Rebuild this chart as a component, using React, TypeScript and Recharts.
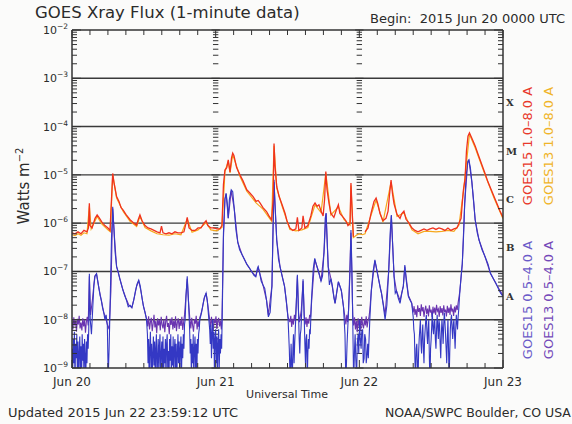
import React from 'react';
import { LineChart, Line, XAxis, YAxis, ReferenceLine } from 'recharts';

const W = 572;
const H = 424;

// [hours since 2015 Jun 20 00:00 UTC, log10(flux W m^-2)]
const goes15Long: [number, number | null][] = [
  [0,-6.2],[0.5,-6.22],[1,-6.18],[1.5,-6.22],[2,-6.15],[2.5,-6.18],[2.75,-6.1],[2.9,-5.59],[3,-6.05],[3.35,-6.1],[3.85,-5.9],[4.2,-5.83],[4.5,-5.88],[5,-5.98],[5.5,-6.05],[6,-6.1],[6.35,-6.15],[6.6,-5.5],[6.8,-4.97],[7,-5.15],[7.45,-5.45],[7.85,-5.55],[8.2,-5.68],[8.55,-5.73],[9,-5.82],[9.7,-5.93],[10.35,-6],[10.8,-6.04],[11,-5.95],[11.35,-5.83],[11.7,-5.95],[12.2,-6.05],[12.7,-6.1],[13.2,-6.12],[13.7,-6.15],[14.2,-6.18],[14.7,-6.2],[14.95,-6.06],[15.2,-6.2],[15.7,-6.22],[16.2,-6.2],[16.7,-6.22],[17.2,-6.18],[17.7,-6.2],[18.2,-6.2],[18.7,-6.18],[19.05,-6.0],[19.25,-5.88],[19.55,-6.1],[20.05,-6.15],[20.55,-6.15],[21.05,-6.1],[21.55,-6.1],[22.05,-6.0],[22.4,-5.95],[22.7,-6.05],[23.2,-6.1],[23.7,-6.1],[24.2,-6.12],[24.7,-6.12],[25.05,-6.05],[25.3,-5.2],[25.55,-4.9],[25.85,-4.85],[26.1,-4.69],[26.4,-4.94],[26.65,-4.65],[26.85,-4.55],[27.05,-4.6],[27.5,-4.85],[28.05,-5.0],[28.55,-5.12],[29.2,-5.31],[29.75,-5.38],[30.25,-5.45],[30.75,-5.55],[31.1,-5.53],[31.4,-5.58],[31.9,-5.68],[32.5,-5.76],[32.9,-5.85],[33.35,-5.93],[33.6,-5.5],[33.75,-4.35],[33.9,-4.8],[34.2,-5.24],[34.6,-5.45],[35.1,-5.62],[35.6,-5.8],[35.9,-5.95],[36.4,-6.1],[36.9,-6.15],[37.4,-6.12],[37.65,-5.88],[37.9,-6.15],[38.4,-6.1],[38.6,-5.85],[38.9,-6.1],[39.4,-6.05],[39.9,-5.85],[40.25,-5.65],[40.6,-5.58],[40.95,-5.65],[41.25,-5.62],[41.6,-5.75],[41.95,-5.85],[42.2,-5.5],[42.4,-4.93],[42.6,-5.3],[42.95,-5.6],[43.25,-5.8],[43.75,-5.88],[44.1,-5.75],[44.5,-5.62],[44.75,-5.8],[45.1,-5.85],[45.45,-5.9],[45.75,-5.95],[46.1,-6.05],[46.45,-6.0],[46.6,-5.17],[46.75,-5.6],[47.0,-6.28],[47.5,null],[48.95,-6.18],[49.45,-6.1],[49.95,-5.8],[50.45,-5.55],[50.8,-5.48],[51.1,-5.6],[51.45,-5.8],[51.95,-5.95],[52.45,-5.9],[52.8,-5.75],[53.05,-5.4],[53.3,-5.11],[53.55,-5.4],[53.8,-5.6],[54.3,-5.82],[54.8,-5.9],[55.1,-5.8],[55.45,-5.75],[55.8,-5.92],[56.3,-6.0],[56.8,-6.1],[57.3,-6.15],[57.8,-6.18],[58.3,-6.15],[58.8,-6.12],[59.3,-6.15],[59.8,-6.12],[60.3,-6.1],[60.8,-6.13],[61.3,-6.1],[61.8,-6.12],[62.3,-6.15],[62.8,-6.1],[63.3,-6.15],[63.8,-6.12],[64.3,-6.1],[64.65,-6.0],[65.0,-5.9],[65.25,-5.5],[65.4,-5.3],[65.65,-5.1],[65.9,-4.5],[66.15,-4.2],[66.4,-4.13],[66.65,-4.2],[67.0,-4.3],[67.35,-4.4],[67.85,-4.58],[68.35,-4.75],[69.0,-4.97],[69.5,-5.15],[70.0,-5.3],[70.5,-5.45],[71.0,-5.6],[71.5,-5.75],[72,-5.88],
];

const goes13Long: [number, number | null][] = [
  [0,-6.24],[0.5,-6.26],[1,-6.22],[1.5,-6.25],[2,-6.2],[2.5,-6.22],[2.9,-5.65],[3.2,-6.12],[4.2,-5.86],[5,-6.02],[6,-6.14],[6.4,-6.18],[6.8,-5.0],[7.45,-5.48],[8.55,-5.76],[9.7,-5.96],[10.8,-6.07],[11.35,-5.86],[12.2,-6.09],[13.2,-6.16],[14.2,-6.22],[15.2,-6.24],[16.2,-6.25],[17.2,-6.22],[18.2,-6.24],[19.25,-5.92],[20.05,-6.19],[21.05,-6.14],[22.4,-5.99],[23.2,-6.14],[24.2,-6.16],[25.05,-6.09],[25.55,-4.93],[26.1,-4.72],[26.4,-4.96],[26.85,-4.58],[28.05,-5.03],[29.2,-5.34],[30.75,-5.58],[31.9,-5.71],[33.35,-5.96],[33.75,-4.4],[34.2,-5.27],[35.1,-5.65],[36.4,-6.13],[37.4,-6.16],[38.4,-6.14],[39.4,-6.09],[40.6,-5.62],[41.6,-5.78],[42.4,-4.97],[43.25,-5.83],[44.5,-5.66],[45.45,-5.93],[46.45,-6.04],[46.6,-5.22],[47.0,-6.3],[47.5,-6.25],[48.0,-6.22],[48.5,-6.24],[48.95,-6.22],[49.95,-5.84],[50.8,-5.52],[51.95,-5.98],[53.3,-5.15],[54.3,-5.86],[55.45,-5.79],[56.8,-6.14],[57.8,-6.22],[58.8,-6.17],[59.8,-6.17],[60.8,-6.18],[61.8,-6.17],[62.8,-6.15],[63.8,-6.17],[64.65,-6.04],[65.4,-5.34],[66.4,-4.16],[67.35,-4.44],[69.0,-5.0],[70.5,-5.48],[72,-5.91],
];

const goes15Short: [number, number | null][] = [
  [0,-8.6],[0.1,-9.2],[0.2,-8.4],[0.3,-8.9],[0.4,-8.25],[0.5,-9.3],[0.6,-8.5],[0.7,-8.8],[0.8,-8.3],[0.9,-9.1],[1,-8.45],[1.1,-9.3],[1.2,-8.7],[1.3,-8.35],[1.4,-9.0],[1.5,-8.55],[1.6,-9.25],[1.7,-8.3],[1.8,-8.85],[1.9,-8.5],[2,-9.2],[2.1,-8.4],[2.2,-8.75],[2.3,-9.3],[2.4,-8.45],[2.5,-8.9],[2.6,-8.3],[2.7,-8.6],[2.8,-8.2],
  [2.9,-7.05],[3.05,-8.0],[3.25,-8.3],[3.45,-7.8],[3.65,-7.3],[3.85,-7.1],[4.1,-7.05],[4.3,-7.2],[4.5,-7.35],[4.7,-7.5],[4.9,-7.6],[5.1,-7.75],[5.3,-7.85],[5.5,-8.0],[5.7,-7.9],[5.9,-8.1],[6.05,-9.2],[6.2,-8.6],[6.4,-7.5],[6.6,-6.3],[6.8,-5.66],[7,-6.1],[7.2,-6.6],[7.45,-6.9],[7.7,-7.0],[7.95,-7.14],[8.2,-7.25],[8.5,-7.38],[8.8,-7.5],[9.1,-7.6],[9.4,-7.73],[9.7,-7.7],[10,-7.75],[10.3,-7.6],[10.6,-7.4],[10.9,-7.25],[11.15,-7.18],[11.4,-7.3],[11.7,-7.55],[11.95,-7.73],[12.2,-7.85],[12.45,-8.0],
  [12.6,-8.3],[12.7,-8.9],[12.8,-8.4],[12.9,-9.3],[13,-8.6],[13.1,-8.25],[13.2,-9.0],[13.3,-8.5],[13.4,-9.3],[13.5,-8.7],[13.6,-8.35],[13.7,-8.95],[13.8,-8.45],[13.9,-9.2],[14,-8.6],[14.1,-8.3],[14.2,-9.3],[14.3,-8.8],[14.4,-8.4],[14.5,-9.1],[14.6,-8.55],[14.7,-8.3],[14.8,-9.3],[14.9,-8.7],[15,-8.45],[15.1,-9.0],[15.2,-8.35],[15.3,-9.3],[15.4,-8.6],[15.5,-8.9],[15.6,-8.4],[15.7,-9.25],[15.8,-8.5],[15.9,-8.3],[16,-9.1],[16.1,-8.65],[16.2,-9.3],[16.3,-8.4],[16.4,-8.85],[16.5,-8.3],[16.6,-9.2],[16.7,-8.55],[16.8,-8.95],[16.9,-8.35],[17,-9.3],[17.1,-8.6],[17.2,-8.4],[17.3,-9.0],[17.4,-8.5],[17.5,-9.3],[17.6,-8.7],[17.7,-8.3],[17.8,-8.9],[17.9,-8.45],[18,-9.2],[18.1,-8.6],[18.2,-8.35],[18.3,-9.05],[18.4,-8.5],[18.5,-8.8],[18.6,-8.3],[18.7,-8.6],[18.8,-8.1],[18.9,-8.0],
  [19.05,-7.5],[19.25,-7.1],[19.45,-7.6],[19.65,-8.2],[19.75,-8.7],[19.85,-8.4],[19.95,-9.2],[20.05,-8.5],[20.15,-8.9],[20.25,-8.3],[20.35,-9.3],[20.45,-8.6],[20.55,-8.35],[20.65,-9.0],[20.75,-8.5],[20.85,-9.25],[20.95,-8.4],[21.05,-8.7],[21.15,-8.3],[21.25,-8.2],[21.35,-8.0],[21.45,-7.95],[21.65,-7.85],[21.85,-7.7],[22.1,-7.55],[22.4,-7.45],[22.6,-7.6],[22.8,-7.9],
  [23,-8.2],[23.1,-8.5],[23.2,-8.1],[23.3,-8.8],[23.4,-8.3],[23.5,-8.0],[23.6,-8.6],[23.7,-8.25],[23.8,-9.1],[23.9,-8.4],[24,-8.2],[24.1,-8.9],[24.2,-8.35],[24.3,-9.3],[24.4,-8.5],[24.5,-8.2],[24.6,-9.0],[24.7,-8.4],[24.8,-8.7],[24.9,-8.3],[25,-8.6],
  [25.15,-7.5],[25.3,-6.2],[25.55,-5.5],[25.75,-5.38],[25.95,-5.6],[26.1,-5.9],[26.3,-5.5],[26.6,-5.31],[26.85,-5.35],[27.1,-5.7],[27.4,-6.15],[27.7,-6.4],[28,-6.55],[28.4,-6.65],[28.8,-6.75],[29.2,-6.85],[29.6,-6.92],[30,-7.0],[30.4,-7.08],[30.7,-7.11],[30.95,-6.95],[31.1,-6.9],[31.3,-7.0],[31.6,-7.2],[31.9,-7.28],[32.2,-7.35],[32.5,-7.6],[32.8,-7.94],[33.1,-7.85],[33.4,-7.3],[33.6,-6.0],[33.75,-5.1],[33.9,-5.6],[34.2,-6.35],[34.5,-6.75],[34.75,-6.9],[35.1,-7.1],[35.5,-7.31],[35.8,-7.6],[36.1,-8.0],[36.3,-8.6],[36.45,-9.3],
  [36.6,-8.5],[36.7,-8.9],[36.8,-9.3],[36.9,-8.6],[37,-8.3],[37.1,-8.9],[37.2,-8.5],[37.3,-8.2],[37.4,-7.9],[37.65,-7.07],[37.85,-7.9],[37.95,-8.4],[38.05,-8.7],[38.15,-8.3],[38.25,-8.2],[38.45,-7.6],[38.6,-7.16],[38.8,-8.0],[38.9,-8.5],[39,-8.9],[39.1,-8.4],[39.2,-8.3],[39.3,-9.3],[39.4,-8.7],[39.5,-8.4],[39.6,-8.6],[39.7,-8.2],[39.8,-8.3],[40,-7.6],[40.3,-6.95],[40.55,-6.73],[40.8,-6.85],[41.05,-6.95],[41.3,-7.05],[41.6,-7.2],[41.85,-7.1],[42.1,-6.6],[42.3,-5.9],[42.45,-5.79],[42.6,-6.3],[42.8,-6.9],[43,-7.28],[43.25,-7.15],[43.5,-7.3],[43.75,-7.55],[43.95,-7.66],[44.25,-7.4],[44.5,-7.21],[44.75,-7.3],[45,-7.4],[45.35,-7.73],[45.6,-8.3],[45.75,-9.3],[45.95,-8.5],[46.2,-7.8],[46.45,-7.0],[46.6,-6.14],[46.75,-6.9],[46.9,-8.0],[47.05,-9.3],
  [47.2,-8.6],[47.3,-8.3],[47.4,-8.8],[47.55,-9.2],[47.65,-8.5],[47.8,-8.3],[47.9,-8.7],[48.05,-8.0],[48.15,-8.4],[48.3,-8.6],[48.4,-8.25],[48.55,-8.2],[48.65,-8.9],[48.8,-8.8],[48.9,-8.3],[49.05,-8.4],[49.15,-8.9],[49.3,-8.7],[49.4,-8.5],[49.5,-8.8],[49.75,-8.0],[50,-7.4],[50.3,-7.0],[50.6,-6.76],[50.9,-6.95],[51.2,-7.15],[51.5,-7.35],[51.7,-7.45],[52,-7.7],[52.3,-8.0],[52.6,-7.7],[52.9,-7.0],[53.15,-6.2],[53.35,-5.83],[53.55,-6.4],[53.8,-7.1],[54,-7.45],[54.2,-7.4],[54.5,-7.55],[54.8,-7.66],[55.1,-7.45],[55.35,-7.31],[55.6,-6.87],[55.85,-7.2],[56.2,-7.52],[56.5,-7.6],[56.75,-7.66],[57,-7.94],
  [57.1,-8.2],[57.2,-8.3],[57.3,-8.9],[57.4,-9.2],[57.5,-8.6],[57.6,-8.5],[57.7,-8.9],[57.8,-9.3],[57.9,-8.7],[58,-8.4],[58.1,-8.2],[58.2,-8.0],[58.3,-8.5],[58.4,-8.7],[58.5,-8.3],[58.6,-8.1],[58.7,-8.6],[58.8,-8.9],[58.9,-8.4],[59,-8.2],[59.1,-8.0],[59.2,-7.9],[59.3,-8.3],[59.4,-8.5],[59.5,-8.2],[59.6,-8.0],[59.7,-8.8],[59.8,-9.3],[59.9,-8.6],[60,-8.4],[60.1,-8.1],[60.2,-7.85],[60.3,-8.2],[60.4,-8.3],[60.5,-8.05],[60.6,-8.0],[60.7,-8.4],[60.8,-8.6],[60.9,-8.2],[61,-7.9],[61.1,-8.15],[61.2,-8.4],[61.3,-8.0],[61.4,-8.1],[61.5,-8.5],[61.6,-8.8],[61.7,-8.3],[61.8,-8.0],[61.9,-8.2],[62,-8.5],[62.1,-8.1],[62.2,-7.85],[62.3,-8.05],[62.4,-8.3],[62.5,-8.6],[62.6,-8.9],[62.7,-8.4],[62.8,-8.0],[62.9,-8.6],[63,-9.3],[63.1,-8.7],[63.2,-8.2],[63.3,-8.0],[63.4,-7.9],[63.5,-8.2],[63.6,-8.4],[63.7,-8.1],[63.8,-8.0],[63.9,-8.3],[64,-8.6],[64.1,-8.2],[64.2,-7.9],[64.3,-8.05],[64.4,-8.2],[64.5,-7.95],[64.6,-7.8],[64.8,-7.4],
  [65,-7.1],[65.2,-6.83],[65.4,-6.3],[65.6,-5.6],[65.85,-5.0],[66.1,-4.72],[66.3,-4.69],[66.55,-4.85],[66.8,-5.15],[67.1,-5.55],[67.35,-5.93],[67.7,-6.2],[68,-6.35],[68.5,-6.55],[69,-6.69],[69.5,-6.85],[69.9,-7.04],[70.4,-7.15],[70.8,-7.24],[71.2,-7.35],[71.6,-7.45],[72,-7.52],
];

const goes13Short: [number, number | null][] = [
  [0,-8.05],[0.15,-8.2],[0.3,-7.95],[0.45,-8.12],[0.6,-8.02],[0.75,-8.25],[0.9,-7.98],[1.05,-8.1],[1.2,-7.92],[1.35,-8.18],[1.5,-8.06],[1.65,-8.22],[1.8,-7.97],[1.95,-8.14],[2.1,-8.0],[2.25,-8.27],[2.4,-8.04],[2.55,-7.94],[2.7,-8.12],
  [2.9,-7.1],[3.1,-7.9],[3.4,-7.6],[3.8,-7.1],[4.1,-7.05],[4.5,-7.35],[4.9,-7.6],[5.3,-7.85],[5.6,-7.95],[5.9,-8.1],[6.2,-8.2],[6.5,-7.4],[6.8,-5.7],[7.1,-6.3],[7.45,-6.9],[8,-7.15],[8.5,-7.38],[9,-7.55],[9.5,-7.7],[10,-7.75],[10.4,-7.55],[10.8,-7.3],[11.15,-7.2],[11.5,-7.4],[11.9,-7.7],[12.3,-7.9],
  [12.5,-8.0],[12.65,-8.14],[12.8,-7.93],[12.95,-8.2],[13.1,-8.05],[13.25,-7.96],[13.4,-8.24],[13.55,-8.08],[13.7,-7.9],[13.85,-8.16],[14,-8.03],[14.15,-8.28],[14.3,-7.97],[14.45,-8.12],[14.6,-8.0],[14.75,-8.22],[14.9,-7.94],[15.05,-8.1],[15.2,-8.18],[15.35,-7.99],[15.5,-8.26],[15.65,-8.04],[15.8,-7.92],[15.95,-8.15],[16.1,-8.07],[16.25,-8.3],[16.4,-7.98],[16.55,-8.11],[16.7,-7.95],[16.85,-8.2],[17,-8.02],[17.15,-8.17],[17.3,-7.93],[17.45,-8.24],[17.6,-8.06],[17.75,-7.97],[17.9,-8.19],[18.05,-8.01],[18.2,-8.13],[18.35,-7.94],[18.5,-8.21],[18.65,-8.05],[18.8,-7.9],
  [19.1,-7.4],[19.25,-7.15],[19.45,-7.6],[19.7,-8.0],[19.85,-8.18],[20,-7.96],[20.15,-8.12],[20.3,-8.25],[20.45,-7.99],[20.6,-8.08],[20.75,-7.92],[20.9,-8.2],[21.05,-8.03],[21.2,-8.15],[21.35,-7.95],[21.5,-7.9],[21.8,-7.75],[22.1,-7.55],[22.4,-7.45],[22.7,-7.7],
  [23,-8.0],[23.15,-8.16],[23.3,-7.94],[23.45,-8.1],[23.6,-8.22],[23.75,-7.98],[23.9,-8.07],[24.05,-7.93],[24.2,-8.19],[24.35,-8.04],[24.5,-7.96],[24.65,-8.14],[24.8,-8.02],[24.95,-8.2],[25.05,-8.0],
  [25.3,-6.3],[25.55,-5.5],[25.75,-5.4],[26.1,-5.9],[26.6,-5.33],[27.1,-5.7],[27.7,-6.4],[28.4,-6.65],[29.2,-6.85],[30,-7.0],[30.7,-7.1],[31.1,-6.92],[31.9,-7.28],[32.5,-7.6],[32.8,-7.9],[33.4,-7.3],[33.75,-5.15],[34.2,-6.35],[34.75,-6.9],[35.5,-7.3],[36.1,-7.95],
  [36.4,-8.05],[36.55,-7.92],[36.7,-8.15],[36.85,-7.98],[37,-8.1],[37.15,-7.9],[37.3,-8.02],[37.45,-7.7],[37.65,-7.1],[37.85,-7.85],[38,-8.05],[38.15,-7.93],[38.3,-7.8],[38.6,-7.2],[38.8,-7.9],[38.95,-8.1],[39.1,-7.95],[39.25,-8.15],[39.4,-7.98],[39.55,-8.08],[39.7,-7.9],[39.85,-7.95],[40.1,-7.5],
  [40.55,-6.75],[41.05,-6.95],[41.6,-7.2],[42.1,-6.6],[42.45,-5.8],[42.8,-6.9],[43.25,-7.15],[43.95,-7.66],[44.5,-7.22],[45,-7.4],[45.35,-7.73],
  [45.6,-7.95],[45.75,-8.1],[45.9,-7.9],[46.05,-8.05],[46.2,-7.8],[46.6,-6.2],[46.9,-7.9],[47.05,-8.12],[47.2,-7.95],[47.35,-8.2],[47.5,-8.03],[47.65,-8.26],[47.8,-7.97],[47.95,-8.14],[48.1,-8.0],[48.25,-8.22],[48.4,-7.94],[48.55,-8.1],[48.7,-8.18],[48.85,-7.99],[49,-8.12],[49.15,-7.93],[49.3,-8.16],[49.45,-8.02],[49.6,-7.96],[49.75,-7.8],
  [50,-7.4],[50.6,-6.78],[51.2,-7.15],[51.7,-7.45],[52.3,-7.9],[52.9,-7.0],[53.35,-5.85],[53.8,-7.1],[54.2,-7.4],[54.8,-7.6],[55.35,-7.3],[55.6,-6.9],[56.2,-7.5],[56.75,-7.65],
  [57,-7.85],[57.15,-7.72],[57.3,-7.9],[57.45,-7.78],[57.6,-7.95],[57.75,-7.7],[57.9,-7.84],[58.05,-7.76],[58.2,-7.92],[58.35,-7.68],[58.5,-7.83],[58.65,-7.74],[58.8,-7.94],[58.95,-7.8],[59.1,-7.71],[59.25,-7.88],[59.4,-7.77],[59.55,-7.93],[59.7,-7.7],[59.85,-7.85],[60,-7.79],[60.15,-7.95],[60.3,-7.73],[60.45,-7.87],[60.6,-7.75],[60.75,-7.9],[60.9,-7.69],[61.05,-7.82],[61.2,-7.78],[61.35,-7.94],[61.5,-7.72],[61.65,-7.86],[61.8,-7.76],[61.95,-7.91],[62.1,-7.7],[62.25,-7.84],[62.4,-7.79],[62.55,-7.93],[62.7,-7.71],[62.85,-7.86],[63,-7.75],[63.15,-7.9],[63.3,-7.68],[63.45,-7.83],[63.6,-7.77],[63.75,-7.92],[63.9,-7.73],[64.05,-7.85],[64.2,-7.7],[64.35,-7.8],[64.5,-7.65],[64.8,-7.4],
  [65.2,-6.85],[65.6,-5.6],[66.1,-4.75],[66.3,-4.7],[66.8,-5.15],[67.35,-5.93],[68,-6.35],[69,-6.7],[69.9,-7.04],[70.8,-7.25],[72,-7.5],
];

const dayLabels = ['Jun 20', 'Jun 21', 'Jun 22', 'Jun 23'];
const dayHours = [0, 24, 48, 72];
const innerDayHours = [24, 48];
const hourTicks = [0, 3, 6, 9, 12, 15, 18, 21, 24, 27, 30, 33, 36, 39, 42, 45, 48, 51, 54, 57, 60, 63, 66, 69, 72];
const decadeExps = [-9, -8, -7, -6, -5, -4, -3, -2];
const gridExps = [-8, -7, -6, -5, -4, -3];
const minorMantissas = [2, 3, 4, 5, 6, 7, 8, 9];
const flareClasses = ['A', 'B', 'C', 'M', 'X'];
const flareClassExps = [-7.5, -6.5, -5.5, -4.5, -3.5];

const COLORS = {
  g15long: '#f0321e',
  g13long: '#f7a81c',
  g15short: '#3438c4',
  g13short: '#6a34b0',
  text: '#2b2b2b',
};

const FONT = '"DejaVu Sans", "Liberation Sans", sans-serif';

const toRows = (pairs: [number, number | null][]) =>
  pairs.map(([t, e]) => ({ t, v: e === null ? null : Math.pow(10, e) }));

const decadeValues = decadeExps.map((e) => Math.pow(10, e));
const minorValues: number[] = [];
decadeExps.slice(0, -1).forEach((e) => minorMantissas.forEach((m) => minorValues.push(m * Math.pow(10, e))));
const allYTicks = [...decadeValues, ...minorValues].sort((a, b) => a - b);
const classValues = flareClassExps.map((e) => Math.pow(10, e));
const rightTicks = [...allYTicks, ...classValues].sort((a, b) => a - b);

const isMajor = (v: number) => {
  const e = Math.log10(v);
  return Math.abs(e - Math.round(e)) < 1e-6;
};
const classIndex = (v: number) => classValues.findIndex((c) => Math.abs(Math.log10(c) - Math.log10(v)) < 1e-6);

const LeftTick = (props: any) => {
  const { x, y, payload } = props;
  const v = payload.value;
  const major = isMajor(v);
  const e = Math.round(Math.log10(v));
  return (
    <g>
      <line x1={x} x2={x + (major ? 9 : 5)} y1={y} y2={y} stroke="#333" strokeWidth={1} />
      {major && (
        <text x={x - 4} y={y + 4} textAnchor="end" fontSize={11} fill={COLORS.text} fontFamily={FONT}>
          10<tspan dy={-5} fontSize={7.5}>{`\u2212${-e}`}</tspan>
        </text>
      )}
    </g>
  );
};

const RightTick = (props: any) => {
  const { x, y, payload } = props;
  const v = payload.value;
  const ci = classIndex(v);
  if (ci >= 0) {
    return (
      <text x={x + 3} y={y + 4} fontSize={10} fontWeight="bold" fill="#333" fontFamily='"DejaVu Serif", serif'>
        {flareClasses[ci]}
      </text>
    );
  }
  const major = isMajor(v);
  return <line x1={x} x2={x - (major ? 9 : 5)} y1={y} y2={y} stroke="#333" strokeWidth={1} />;
};

const TopTick = (props: any) => {
  const { x, y, payload } = props;
  const day = payload.value % 24 === 0;
  return <line x1={x} x2={x} y1={y} y2={y + (day ? 8 : 5)} stroke="#333" strokeWidth={1} />;
};

const BottomTick = (props: any) => {
  const { x, y, payload } = props;
  const v = payload.value;
  const di = dayHours.indexOf(v);
  return (
    <g>
      <line x1={x} x2={x} y1={y} y2={y - (di >= 0 ? 8 : 5)} stroke="#333" strokeWidth={1} />
      {di >= 0 && (
        <text x={x} y={y + 18} textAnchor="middle" fontSize={12} fill={COLORS.text} fontFamily={FONT}>
          {dayLabels[di]}
        </text>
      )}
    </g>
  );
};

const legendUpper = [
  { text: 'GOES15 1.0\u20138.0 A', color: '#e8382a', x: 532 },
  { text: 'GOES13 1.0\u20138.0 A', color: '#f0b428', x: 553 },
];
const legendLower = [
  { text: 'GOES15 0.5\u20134.0 A', color: '#6a5ac8', x: 532 },
  { text: 'GOES13 0.5\u20134.0 A', color: '#7448b8', x: 553 },
];

export default function App() {
  const dayTickSegments: { d: number; v: number; major: boolean }[] = [];
  innerDayHours.forEach((d) => allYTicks.forEach((v) => dayTickSegments.push({ d, v, major: isMajor(v) })));

  return (
    <div style={{ position: 'fixed', left: 0, top: 0, width: W, height: H, background: '#fbfbfa', overflow: 'hidden' }}>
      <LineChart width={W} height={H} margin={{ top: 20, right: 49, bottom: 36, left: 0 }}>
        <XAxis
          xAxisId="b"
          dataKey="t"
          type="number"
          domain={[0, 72]}
          ticks={hourTicks}
          interval={0}
          height={20}
          tickSize={0}
          tickMargin={0}
          tick={<BottomTick />}
          axisLine={{ stroke: '#333', strokeWidth: 1.5 }}
          allowDataOverflow
        />
        <XAxis
          xAxisId="t"
          orientation="top"
          dataKey="t"
          type="number"
          domain={[0, 72]}
          ticks={hourTicks}
          interval={0}
          height={10}
          tickSize={0}
          tickMargin={0}
          tick={<TopTick />}
          axisLine={{ stroke: '#333', strokeWidth: 1.5 }}
          allowDataOverflow
        />
        <YAxis
          yAxisId="l"
          scale="log"
          type="number"
          domain={[1e-9, 1e-2]}
          ticks={allYTicks}
          interval={0}
          width={72}
          tickSize={0}
          tickMargin={0}
          tick={<LeftTick />}
          axisLine={{ stroke: '#333', strokeWidth: 1.5 }}
          allowDataOverflow
        />
        <YAxis
          yAxisId="r"
          orientation="right"
          scale="log"
          type="number"
          domain={[1e-9, 1e-2]}
          ticks={rightTicks}
          interval={0}
          width={20}
          tickSize={0}
          tickMargin={0}
          tick={<RightTick />}
          axisLine={{ stroke: '#333', strokeWidth: 1.5 }}
          allowDataOverflow
        />
        {gridExps.map((e) => (
          <ReferenceLine key={`g${e}`} xAxisId="b" yAxisId="l" y={Math.pow(10, e)} stroke="#3a3a3a" strokeWidth={1.4} />
        ))}
        {dayTickSegments.map((s, i) => (
          <ReferenceLine
            key={`d${i}`}
            xAxisId="b"
            yAxisId="l"
            segment={[
              { x: s.d - (s.major ? 0.7 : 0.45), y: s.v },
              { x: s.d + (s.major ? 0.7 : 0.45), y: s.v },
            ]}
            stroke="#333"
            strokeWidth={1}
          />
        ))}
        <Line xAxisId="b" yAxisId="l" data={toRows(goes13Short)} dataKey="v" stroke={COLORS.g13short} strokeWidth={1.1} dot={false} isAnimationActive={false} />
        <Line xAxisId="b" yAxisId="l" data={toRows(goes15Short)} dataKey="v" stroke={COLORS.g15short} strokeWidth={1.1} dot={false} isAnimationActive={false} />
        <Line xAxisId="b" yAxisId="l" data={toRows(goes13Long)} dataKey="v" stroke={COLORS.g13long} strokeWidth={1.2} dot={false} isAnimationActive={false} />
        <Line xAxisId="b" yAxisId="l" data={toRows(goes15Long)} dataKey="v" stroke={COLORS.g15long} strokeWidth={1.3} dot={false} isAnimationActive={false} />
      </LineChart>
      <svg width={W} height={H} style={{ position: 'absolute', left: 0, top: 0, pointerEvents: 'none' }}>
        <text x={35} y={18} fontSize={16.5} fill={COLORS.text} fontFamily={FONT}>GOES Xray Flux (1-minute data)</text>
        <text x={370} y={23} fontSize={13} fill={COLORS.text} fontFamily={FONT}>{'Begin:\u00a0\u00a02015 Jun 20 0000 UTC'}</text>
        <text transform="translate(29,186) rotate(-90)" textAnchor="middle" fontSize={15} fill={COLORS.text} fontFamily={FONT}>
          Watts m<tspan dy={-6} fontSize={10}>{'\u22122'}</tspan>
        </text>
        {legendUpper.map((l) => (
          <text key={l.text} transform={`translate(${l.x},146) rotate(-90)`} textAnchor="middle" fontSize={13} fill={l.color} fontFamily={FONT}>{l.text}</text>
        ))}
        {legendLower.map((l) => (
          <text key={l.text} transform={`translate(${l.x},300) rotate(-90)`} textAnchor="middle" fontSize={13} fill={l.color} fontFamily={FONT}>{l.text}</text>
        ))}
        <text x={287} y={398} textAnchor="middle" fontSize={11} fill={COLORS.text} fontFamily={FONT}>Universal Time</text>
        <text x={8} y={417} fontSize={13} fill={COLORS.text} fontFamily={FONT}>Updated 2015 Jun 22 23:59:12 UTC</text>
        <text x={385} y={417} fontSize={12.5} fill={COLORS.text} fontFamily={FONT}>NOAA/SWPC Boulder, CO USA</text>
      </svg>
    </div>
  );
}
